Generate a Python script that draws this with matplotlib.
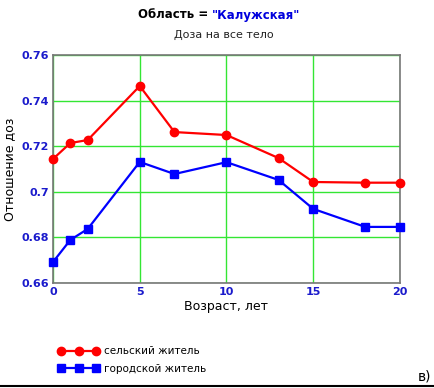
import matplotlib.pyplot as plt
import numpy as np

# Data
age = [0, 1, 2, 5, 7, 10, 13, 15, 18, 20]
rural = [0.7144, 0.7214, 0.7227, 0.7464, 0.7262, 0.7249, 0.7148, 0.7043, 0.7040, 0.7040]
urban = [0.6692, 0.6789, 0.6837, 0.7131, 0.7078, 0.7130, 0.7052, 0.6925, 0.6846, 0.6846]

x_ticks = [0, 5, 10, 15, 20]
y_ticks = [0.66, 0.68, 0.70, 0.72, 0.74, 0.76]
y_tick_labels = ["0.66", "0.68", "0.7", "0.72", "0.74", "0.76"]

plt.rcParams['font.family'] = ['DejaVu Sans']

fig = plt.figure(figsize=(4.35, 3.88), dpi=100)
ax = fig.add_axes([53 / 435, 1 - 283 / 388, 347 / 435, 228 / 388])

ax.plot(age, rural, color="#ff0000", linewidth=1.6, marker="o", markersize=6,
        label="сельский житель", clip_on=False, zorder=3)
ax.plot(age, urban, color="#0000ff", linewidth=1.6, marker="s", markersize=6,
        label="городской житель", clip_on=False, zorder=3)

ax.set_xlim(0, 20)
ax.set_ylim(0.66, 0.76)
ax.set_xticks(x_ticks)
ax.set_yticks(y_ticks)
ax.set_yticklabels(y_tick_labels)
ax.tick_params(length=0, labelsize=8, labelcolor="#1a1acc", pad=3)
for lbl in ax.get_xticklabels() + ax.get_yticklabels():
    lbl.set_fontweight("bold")
ax.grid(color="#33e633", linewidth=1)
ax.set_axisbelow(True)
for sp in ax.spines.values():
    sp.set_color("#777777")
    sp.set_linewidth(1.2)

ax.set_xlabel("Возраст, лет", fontsize=9, labelpad=2)
ax.set_ylabel("Отношение доз", fontsize=9, labelpad=4)

# Title in two colours
fig.text(212 / 435, 1 - 15 / 388, "Область = ", ha="right", va="center",
         fontsize=8.5, fontweight="bold", color="black")
fig.text(212 / 435, 1 - 15 / 388, "\"Калужская\"", ha="left", va="center",
         fontsize=8.5, fontweight="bold", color="#0000dd")
fig.text(224 / 435, 1 - 35 / 388, "Доза на все тело", ha="center", va="center",
         fontsize=8, color="#222222")

fig.legend(loc="upper left", bbox_to_anchor=(53 / 435, 1 - 341 / 388), frameon=False,
           fontsize=7.5, numpoints=3, handlelength=3.9, handletextpad=0.5,
           labelspacing=0.75, borderpad=0)

fig.text(418 / 435, 1 - 377 / 388, "в)", ha="left", va="center", fontsize=10)
fig.add_artist(plt.Line2D([0, 1], [1 - 386 / 388] * 2, color="black", linewidth=1.5))

fig.savefig("out.png", dpi=100)
